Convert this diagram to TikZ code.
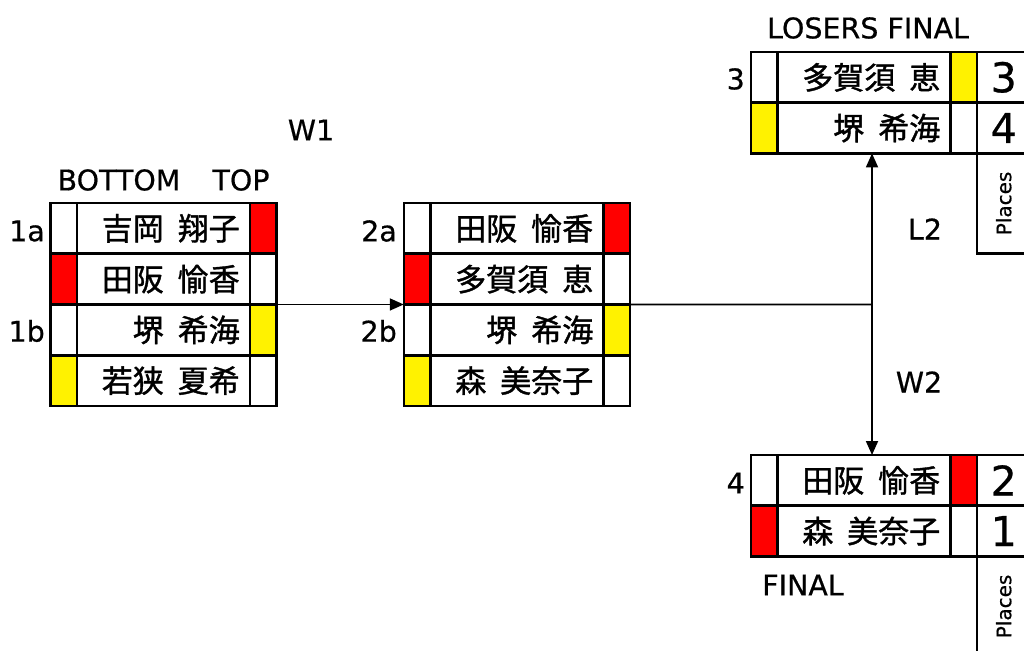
\documentclass[tikz,border=0pt]{standalone}
\usepackage{fontspec}
\setmainfont[FakeBold=0.6]{DejaVu Sans}
\newfontfamily\cjk[FakeBold=1.2]{Noto Sans CJK JP}
\usetikzlibrary{arrows.meta, positioning}
\newcommand{\gp}{\hspace{0.45em}}

\begin{document}
\begin{tikzpicture}[x=1pt, y=-1pt,
    % cell styles
    cell/.style={
        draw, line width=2.5pt, inner sep=0pt, outer sep=0pt,
        minimum height=50.7pt,
      },
    colcell/.style={cell, minimum width=26.5pt},
    namecell/.style={
        cell, minimum width=173pt, text width=153pt, align=right,
        inner xsep=10pt, font=\cjk\fontsize{31}{34}\selectfont,
      },
    numcell/.style={cell, minimum width=54pt, font=\fontsize{41}{44}\selectfont},
    placesbox/.style={
        draw, line width=2.5pt, inner sep=0pt, outer sep=0pt,
        minimum width=54pt, minimum height=100pt,
        font=\fontsize{20}{22}\selectfont,
      },
    % labels and connectors
    lbl/.style={font=\fontsize{28.5}{30}\selectfont, inner sep=0pt},
    conn/.style={line width=1.8pt, -{Triangle[length=14pt,width=12pt]}},
  ]
  \useasboundingbox (0,0) rectangle (1024,650);

  % --- first round ---
  \foreach \nm/\lc/\rc [count=\i] in {吉岡\gp{}翔子/white/red, 田阪\gp{}愉香/red/white,
      堺\gp{}希海/white/yellow, 若狭\gp{}夏希/yellow/white} {
      \node[colcell, fill=\lc] (aL\i) at (63.5, {203+(\i-0.5)*50.75}) {};
      \node[namecell, right=0pt of aL\i] (aN\i) {\nm};
      \node[colcell, fill=\rc, right=0pt of aN\i] (aR\i) {};
    }

  % --- second round ---
  \foreach \nm/\lc/\rc [count=\i] in {田阪\gp{}愉香/white/red, 多賀須\gp{}恵/red/white,
      堺\gp{}希海/white/yellow, 森\gp{}美奈子/yellow/white} {
      \node[colcell, fill=\lc] (bL\i) at (417, {203+(\i-0.5)*50.75}) {};
      \node[namecell, right=0pt of bL\i] (bN\i) {\nm};
      \node[colcell, fill=\rc, right=0pt of bN\i] (bR\i) {};
    }

  % --- losers final ---
  \foreach \nm/\lc/\rc/\pl [count=\i] in {多賀須\gp{}恵/white/yellow/3, 堺\gp{}希海/yellow/white/4} {
      \node[colcell, fill=\lc] (cL\i) at (764, {52+(\i-0.5)*50.7}) {};
      \node[namecell, right=0pt of cL\i] (cN\i) {\nm};
      \node[colcell, fill=\rc, right=0pt of cN\i] (cR\i) {};
      \node[numcell, right=0pt of cR\i] (cP\i) {\makebox[38pt]{\pl}\hspace{16pt}};
    }
  \node[placesbox, below=0pt of cP2] (cPlaces) {\makebox[48pt]{\rotatebox{90}{Places}}\hspace{6pt}};

  % --- final ---
  \foreach \nm/\lc/\rc/\pl [count=\i] in {田阪\gp{}愉香/white/red/2, 森\gp{}美奈子/red/white/1} {
      \node[colcell, fill=\lc] (dL\i) at (764, {455+(\i-0.5)*50.7}) {};
      \node[namecell, right=0pt of dL\i] (dN\i) {\nm};
      \node[colcell, fill=\rc, right=0pt of dN\i] (dR\i) {};
      \node[numcell, right=0pt of dR\i] (dP\i) {\makebox[38pt]{\pl}\hspace{16pt}};
    }
  \node[placesbox, below=0pt of dP2] (dPlaces) {\makebox[48pt]{\rotatebox{90}{Places}}\hspace{6pt}};

  % --- connectors ---
  \coordinate (split) at (872, 304.5);
  \draw[conn] (aR2.south east) -- (bL2.south west);
  \draw[line width=1.8pt] (bR2.south east) -- (split);
  \draw[conn] (split) -- (split |- cN2.south);
  \draw[conn] (split) -- (split |- dN1.north);

  % --- labels ---
  \node[lbl] (bottom) at (119,180) {BOTTOM};
  \node[lbl] (top) at (241,180) {TOP};
  \node[lbl] (w1) at (311,130) {W1};
  \node[lbl, anchor=east] (l1a) at (45,231) {1a};
  \node[lbl, anchor=east] (l1b) at (45,331) {1b};
  \node[lbl, anchor=east] (l2a) at (397,231) {2a};
  \node[lbl, anchor=east] (l2b) at (397,331) {2b};
  \node[lbl] (losers) at (868,28) {LOSERS FINAL};
  \node[lbl, anchor=east] (l3) at (745,79) {3};
  \node[lbl] (l2) at (925,229) {L2};
  \node[lbl] (w2) at (919,382) {W2};
  \node[lbl, anchor=east] (l4) at (745,483) {4};
  \node[lbl] (final) at (803,585) {FINAL};

\end{tikzpicture}
\end{document}
